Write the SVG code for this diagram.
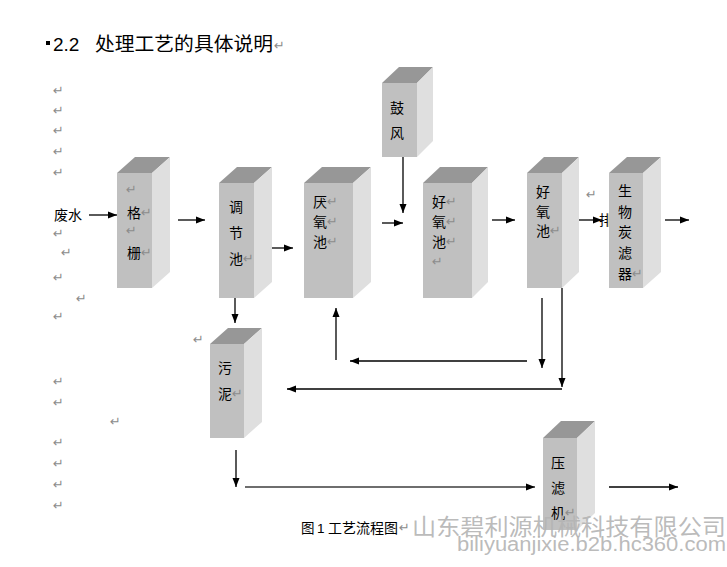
<svg xmlns="http://www.w3.org/2000/svg" width="727" height="567" viewBox="0 0 727 567">
<style>
.f{fill:#c0c0c0}
.t{fill:#979797}
.s{fill:#dfdfdf}
.lbl{font-family:"Liberation Sans","Noto Sans CJK SC",sans-serif;font-size:14px;fill:#000}
.rt{font-family:"DejaVu Sans",sans-serif;font-size:13px;fill:#8c8c8c}
.ln{stroke:#000;stroke-width:1.3;fill:none}
</style>
<defs>
<marker id="ah" markerUnits="userSpaceOnUse" markerWidth="10" markerHeight="8" refX="9" refY="4" orient="auto">
<path d="M0,0.5 L9,4 L0,7.5 z" fill="#000"/>
</marker>
</defs>
<rect width="727" height="567" fill="#fff"/>

<g id="heading" fill="#000">
<rect x="46" y="41" width="4" height="4" fill="#000"/>
<text x="53" y="51" font-size="19" font-family="'Liberation Sans',sans-serif">2.2</text>
<text x="95" y="51" font-size="19" textLength="178" lengthAdjust="spacingAndGlyphs" font-family="'Noto Sans CJK SC',sans-serif">处理工艺的具体说明</text>
<text x="274" y="50" class="rt">↵</text>
</g>

<g id="returns">
<text class="rt" x="53" y="95">↵</text>
<text class="rt" x="53" y="115">↵</text>
<text class="rt" x="53" y="135">↵</text>
<text class="rt" x="53" y="156">↵</text>
<text class="rt" x="53" y="177">↵</text>
<text class="rt" x="53" y="238">↵</text>
<text class="rt" x="61" y="257">↵</text>
<text class="rt" x="53" y="282">↵</text>
<text class="rt" x="76" y="303">↵</text>
<text class="rt" x="53" y="321">↵</text>
<text class="rt" x="193" y="344">↵</text>
<text class="rt" x="53" y="386">↵</text>
<text class="rt" x="53" y="407">↵</text>
<text class="rt" x="110" y="426">↵</text>
<text class="rt" x="53" y="447">↵</text>
<text class="rt" x="53" y="468">↵</text>
<text class="rt" x="53" y="489">↵</text>
<text class="rt" x="53" y="510">↵</text>
<text class="rt" x="586" y="199">↵</text>
</g>

<text class="lbl" x="54" y="220">废水</text>
<text class="lbl" x="599" y="225">排</text>

<g id="connectors">
<line class="ln" x1="89" y1="215" x2="117" y2="215" marker-end="url(#ah)"/>
<line class="ln" x1="178" y1="220" x2="205" y2="220" marker-end="url(#ah)"/>
<line class="ln" x1="266" y1="248" x2="293" y2="248" marker-end="url(#ah)"/>
<line class="ln" x1="382" y1="223" x2="403" y2="223" marker-end="url(#ah)"/>
<line class="ln" x1="403" y1="157" x2="403" y2="213" marker-end="url(#ah)"/>
<line class="ln" x1="492" y1="220" x2="515" y2="220" marker-end="url(#ah)"/>
<line class="ln" x1="577" y1="220" x2="602" y2="220" marker-end="url(#ah)"/>
<line class="ln" x1="665" y1="220" x2="689" y2="220" marker-end="url(#ah)"/>
<line class="ln" x1="235" y1="298" x2="235" y2="323" marker-end="url(#ah)"/>
<line class="ln" x1="336" y1="360" x2="336" y2="308" marker-end="url(#ah)"/>
<line class="ln" x1="527" y1="361" x2="350" y2="361" marker-end="url(#ah)"/>
<line class="ln" x1="542" y1="298" x2="542" y2="368" marker-end="url(#ah)"/>
<line class="ln" x1="562" y1="288" x2="562" y2="387" marker-end="url(#ah)"/>
<line class="ln" x1="562" y1="389" x2="287" y2="389" marker-end="url(#ah)"/>
<line class="ln" x1="236" y1="450" x2="236" y2="487" marker-end="url(#ah)"/>
<line class="ln" x1="245" y1="487" x2="535" y2="487" style="stroke:#6e6e6e;stroke-width:1.8" marker-end="url(#ah)"/>
<line class="ln" x1="609" y1="487" x2="678" y2="487" marker-end="url(#ah)"/>
</g>

<g id="n-gezha">
<polygon class="f" points="117,173 152,173 152,288 117,288"/>
<polygon class="t" points="117,173 135,157 170,157 152,173"/>
<polygon class="s" points="152,173 170,157 170,272 152,288"/>
<text class="rt" x="126" y="194">↵</text>
<text class="lbl" x="127" y="218">格</text><text class="rt" x="141" y="217">↵</text>
<text class="rt" x="126" y="235">↵</text>
<text class="lbl" x="127" y="258">栅</text><text class="rt" x="141" y="257">↵</text>
</g>

<g id="n-tiaojie">
<polygon class="f" points="219,183 254,183 254,298 219,298"/>
<polygon class="t" points="219,183 237,167 272,167 254,183"/>
<polygon class="s" points="254,183 272,167 272,282 254,298"/>
<text class="lbl" x="229" y="212">调</text>
<text class="lbl" x="229" y="238">节</text>
<text class="lbl" x="229" y="264">池</text><text class="rt" x="243" y="263">↵</text>
</g>

<g id="n-yanyang">
<polygon class="f" points="304,183 353,183 353,298 304,298"/>
<polygon class="t" points="304,183 322,167 371,167 353,183"/>
<polygon class="s" points="353,183 371,167 371,282 353,298"/>
<text class="lbl" x="313" y="207">厌</text><text class="rt" x="327" y="206">↵</text>
<text class="lbl" x="313" y="227">氧</text><text class="rt" x="327" y="226">↵</text>
<text class="lbl" x="313" y="247">池</text><text class="rt" x="327" y="246">↵</text>
</g>

<g id="n-gufeng">
<polygon class="f" points="382,83 417,83 417,157 382,157"/>
<polygon class="t" points="382,83 399,67 433,67 417,83"/>
<polygon class="s" points="417,83 433,67 433,141 417,157"/>
<text class="lbl" x="390" y="113">鼓</text>
<text class="lbl" x="390" y="138">风</text>
</g>

<g id="n-haoyang1">
<polygon class="f" points="423,183 472,183 472,298 423,298"/>
<polygon class="t" points="423,183 440,167 488,167 472,183"/>
<polygon class="s" points="472,183 488,167 488,282 472,298"/>
<text class="lbl" x="432" y="207">好</text><text class="rt" x="446" y="206">↵</text>
<text class="lbl" x="432" y="227">氧</text><text class="rt" x="446" y="226">↵</text>
<text class="lbl" x="432" y="247">池</text><text class="rt" x="446" y="246">↵</text>
<text class="rt" x="432" y="266">↵</text>
</g>

<g id="n-haoyang2">
<polygon class="f" points="527,173 562,173 562,288 527,288"/>
<polygon class="t" points="527,173 544,157 579,157 562,173"/>
<polygon class="s" points="562,173 579,157 579,272 562,288"/>
<text class="lbl" x="536" y="197">好</text>
<text class="lbl" x="536" y="217">氧</text>
<text class="lbl" x="536" y="236">池</text><text class="rt" x="550" y="235">↵</text>
</g>

<g id="n-tanlv">
<polygon class="f" points="609,173 643,173 643,288 609,288"/>
<polygon class="t" points="609,173 627,157 661,157 643,173"/>
<polygon class="s" points="643,173 661,157 661,272 643,288"/>
<text class="lbl" x="618" y="196">生</text>
<text class="lbl" x="618" y="217">物</text>
<text class="lbl" x="618" y="237">炭</text>
<text class="lbl" x="618" y="258">滤</text>
<text class="lbl" x="618" y="279">器</text><text class="rt" x="632" y="278">↵</text>
</g>

<g id="n-wuni">
<polygon class="f" points="210,344 244,344 244,438 210,438"/>
<polygon class="t" points="210,344 228,328 262,328 244,344"/>
<polygon class="s" points="244,344 262,328 262,422 244,438"/>
<text class="lbl" x="218" y="373">污</text>
<text class="lbl" x="218" y="399">泥</text><text class="rt" x="232" y="398">↵</text>
</g>

<g id="n-yalv">
<polygon class="f" points="543,438 577,438 577,530 543,530"/>
<polygon class="t" points="543,438 561,421 595,421 577,438"/>
<polygon class="s" points="577,438 595,421 595,513 577,530"/>
<text class="lbl" x="551" y="468">压</text>
<text class="lbl" x="551" y="493">滤</text>
<text class="lbl" x="551" y="518">机</text><text class="rt" x="565" y="517">↵</text>
</g>

<g id="caption" font-family="'Noto Sans CJK SC',sans-serif" font-size="13.5" fill="#000">
<text x="301" y="533">图</text>
<text x="317" y="533" font-family="'Liberation Sans',sans-serif">1</text>
<text x="328" y="533" textLength="70" lengthAdjust="spacingAndGlyphs">工艺流程图</text>
<text x="399" y="532" class="rt">↵</text>
</g>

<g id="watermark" font-family="'Noto Sans CJK SC',sans-serif" fill="#b4b4b4" fill-opacity="0.92">
<text x="412" y="535" font-size="22.5" textLength="314" lengthAdjust="spacingAndGlyphs">山东碧利源机械科技有限公司</text>
<text x="457" y="551" font-size="20" textLength="269" lengthAdjust="spacingAndGlyphs" font-family="'Liberation Sans',sans-serif">biliyuanjixie.b2b.hc360.com</text>
</g>
</svg>
